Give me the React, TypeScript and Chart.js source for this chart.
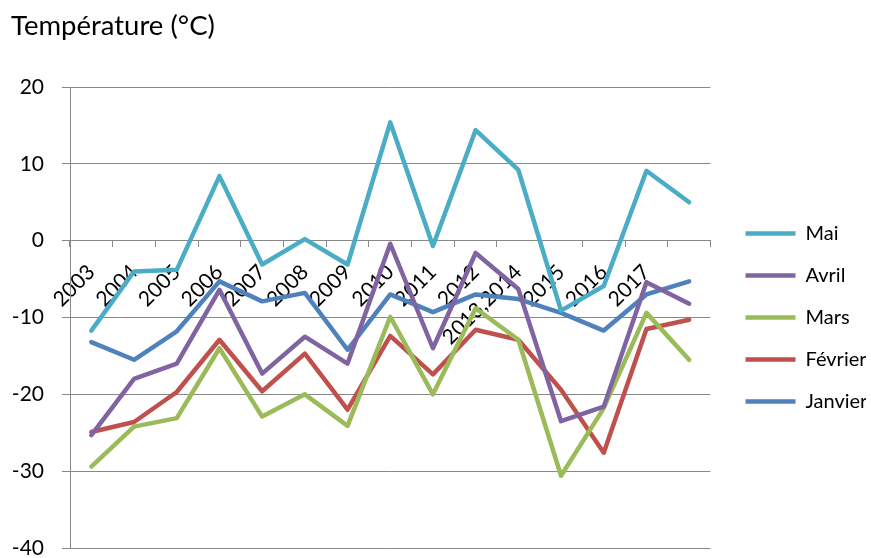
import React, { useEffect, useRef } from "react";
import { Chart, registerables } from "chart.js";

Chart.register(...registerables);

const years = ["2003", "2004", "2005", "2006", "2007", "2008", "2009", "2010", "2011", "2012", "2013,2014", "2015", "2016", "2017", ""];
const mai = [-11.7, -4.0, -3.8, 8.4, -3.1, 0.2, -3.1, 15.4, -0.7, 14.4, 9.2, -9.1, -5.9, 9.1, 5.0];
const avril = [-25.3, -18.0, -16.0, -6.4, -17.3, -12.5, -16.0, -0.4, -14.0, -1.6, -6.3, -23.5, -21.6, -5.4, -8.2];
const mars = [-29.4, -24.2, -23.1, -14.0, -22.9, -20.0, -24.1, -9.9, -20.0, -8.8, -12.9, -30.6, -21.8, -9.4, -15.5];
const fevrier = [-24.9, -23.6, -19.7, -12.9, -19.6, -14.7, -22.0, -12.4, -17.4, -11.6, -12.9, -19.4, -27.6, -11.5, -10.3];
const janvier = [-13.2, -15.5, -11.8, -5.3, -7.9, -6.8, -14.2, -7.0, -9.3, -7.0, -7.6, -9.4, -11.7, -7.0, -5.3];
const seriesNames = ["Mai", "Avril", "Mars", "Février", "Janvier"];
const seriesColors = ["#4BACC6", "#8064A2", "#9BBB59", "#C0504D", "#4F81BD"];
const titleText = "Température (°C)";

const FONT = "Lato, 'Open Sans', sans-serif";

export default function App() {
  const ref = useRef<HTMLCanvasElement | null>(null);

  useEffect(() => {
    document.body.style.margin = "0";
    const canvas = ref.current;
    if (!canvas) return;
    const values = [mai, avril, mars, fevrier, janvier];
    const chart = new Chart(canvas, {
      type: "line",
      data: {
        labels: years,
        datasets: values.map((v, i) => ({
          label: seriesNames[i],
          data: v,
          borderColor: seriesColors[i],
          backgroundColor: seriesColors[i],
          borderWidth: 4.5,
          borderCapStyle: "round",
          borderJoinStyle: "round",
          pointRadius: 0,
          pointHoverRadius: 0,
          tension: 0,
          fill: false,
        })),
      },
      options: {
        responsive: false,
        animation: false,
        layout: { padding: { left: 11, right: 5, top: 0, bottom: 10 } },
        plugins: {
          tooltip: { enabled: false },
          title: {
            display: true,
            text: titleText,
            align: "start",
            color: "#000",
            font: { family: FONT, size: 27.5, weight: "normal" },
            padding: { top: 10, bottom: 44 },
          },
          legend: {
            position: "right",
            fullSize: false,
            align: "center",
            labels: {
              usePointStyle: true,
              pointStyle: "line",
              pointStyleWidth: 50,
              padding: 22,
              color: "#000",
              font: { family: FONT, size: 20 },
            },
          },
        },
        scales: {
          x: {
            type: "category",
            position: { y: 0 },
            offset: true,
            afterFit: (s: any) => {
              s.height = 0;
            },
            grid: {
              display: true,
              drawOnChartArea: false,
              drawTicks: true,
              tickLength: 6,
              offset: true,
              color: "#888",
            },
            border: { display: true, color: "#888", width: 1 },
            ticks: {
              autoSkip: false,
              minRotation: 45,
              maxRotation: 45,
              padding: 13,
              color: "#000",
              font: { family: FONT, size: 21 },
            },
          },
          y: {
            type: "linear",
            position: "left",
            min: -40,
            max: 20,
            afterFit: (s: any) => {
              s.width = 59;
              s.paddingTop = 0;
              s.paddingBottom = 0;
            },
            grid: { color: "#888", tickLength: 8, drawTicks: true },
            border: { display: true, color: "#888" },
            ticks: {
              stepSize: 10,
              padding: 18,
              color: "#000",
              font: { family: FONT, size: 21, lineHeight: 1 },
            },
          },
          y2: {
            type: "linear",
            position: "right",
            display: true,
            afterFit: (s: any) => {
              s.width = 13;
              s.paddingTop = 0;
              s.paddingBottom = 0;
            },
            grid: { display: false, drawTicks: false },
            border: { display: false },
            ticks: { display: false },
          },
        },
      },
    });
    return () => chart.destroy();
  }, []);

  return (
    <div style={{ width: 871, height: 558 }}>
      <canvas ref={ref} width={871} height={558} />
    </div>
  );
}
